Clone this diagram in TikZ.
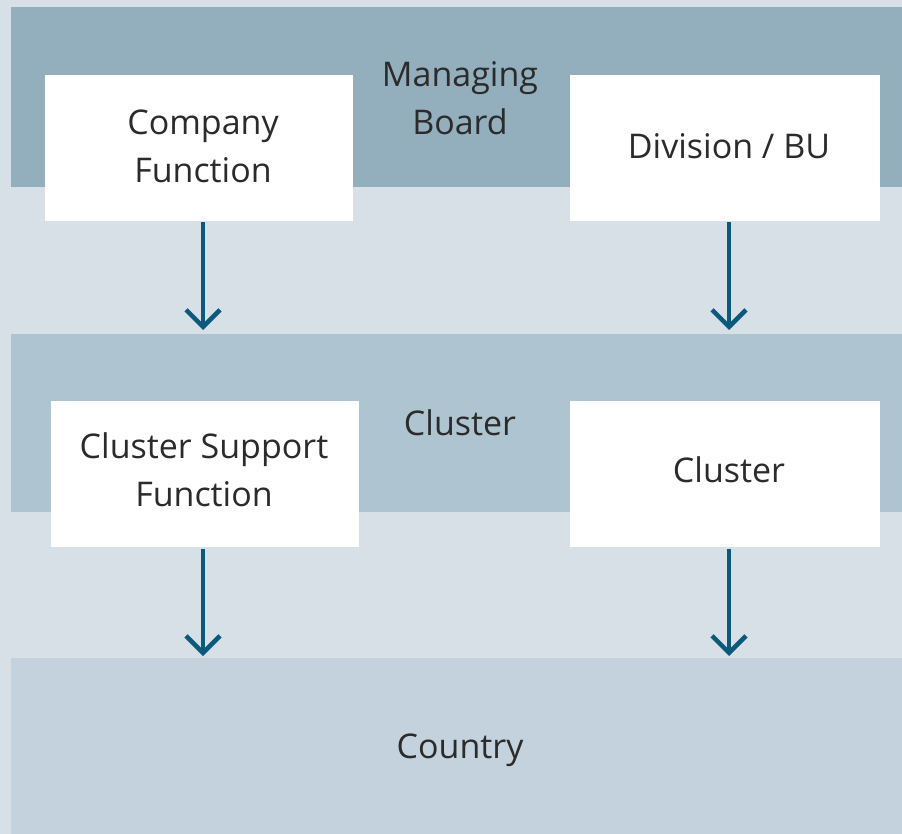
\documentclass[tikz,border=0pt]{standalone}
\usepackage{fontspec}
\setmainfont{Open Sans}
\usetikzlibrary{arrows.meta}
\definecolor{bgc}{HTML}{D8E0E7}
\definecolor{bandA}{HTML}{93AFBD}
\definecolor{bandB}{HTML}{AFC4D1}
\definecolor{bandC}{HTML}{C3D2DC}
\definecolor{arrc}{HTML}{0B5A7C}
\definecolor{txtc}{HTML}{2B2B2B}
\tikzset{
  wbox/.style={fill=white,draw=none,inner sep=0pt,anchor=north west,minimum width=308pt,minimum height=146pt},
  lbl/.style={text=txtc,font=\fontsize{34}{48}\selectfont,align=center,inner sep=0pt},
  flow/.style={draw=arrc,line width=4.5pt,-{Straight Barb[length=17pt,width=34pt,line width=4.5pt]}}
}
\begin{document}
\begin{tikzpicture}[x=1pt,y=-1pt]
\useasboundingbox (0,0) rectangle (902,834);
\fill[bgc] (0,0) rectangle (902,834);
\fill[bandA] (11,7) rectangle (902,187);
\fill[bandB] (11,334) rectangle (902,512);
\fill[bandC] (11,658) rectangle (902,834);
\node[lbl] (mb) at (460,98) {Managing\\Board};
\node[lbl] (cl) at (460,423) {Cluster};
\node[lbl] (co) at (460,750) {Country};
\node[wbox] (cf) at (45,75) {};
\node[wbox,minimum width=310pt] (dbu) at (570,75) {};
\node[wbox] (csf) at (51,401) {};
\node[wbox,minimum width=310pt] (clb) at (570,401) {};
\node[lbl] (cft) at (203,146) {Company\\Function};
\node[lbl] (dbut) at (729,146) {Division / BU};
\node[lbl] (csft) at (204,470) {Cluster Support\\Function};
\node[lbl] (clbt) at (729,470) {Cluster};
\coordinate (a1) at (203,330);
\coordinate (a2) at (729,330);
\coordinate (a3) at (203,656);
\coordinate (a4) at (729,656);
\draw[flow] ([yshift=-1pt]cf.south -| a1) -- (a1);
\draw[flow] ([yshift=-1pt]dbu.south -| a2) -- (a2);
\draw[flow] ([yshift=-2pt]csf.south -| a3) -- (a3);
\draw[flow] ([yshift=-2pt]clb.south -| a4) -- (a4);
\end{tikzpicture}
\end{document}
